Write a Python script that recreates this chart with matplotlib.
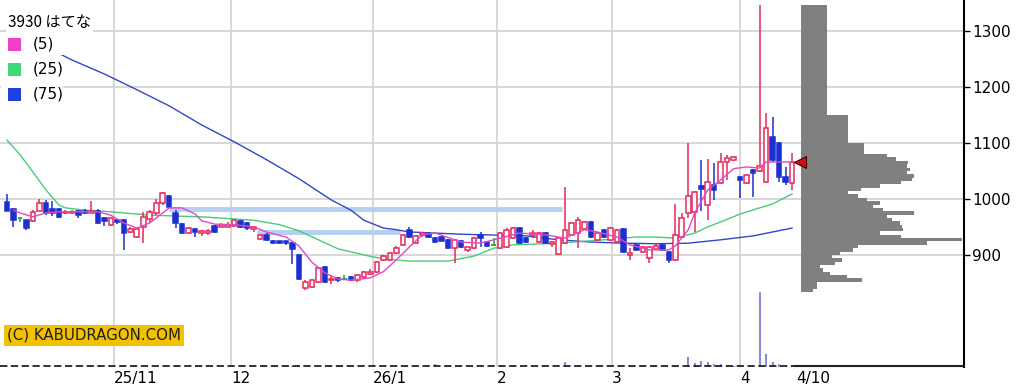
import matplotlib
matplotlib.use("Agg")
import matplotlib.pyplot as plt
from matplotlib.patches import Rectangle

# daily candles (price, yen)
opens = [995, 982, 966, 962, 960, 979, 993, 982, 982, 975,
         974, 978, 978, 974, 979, 966, 954, 962, 962, 941,
         932, 950, 964, 975, 993, 1005, 975, 955, 939, 946,
         939, 940, 952, 950, 950, 952, 961, 957, 946, 929,
         936, 925, 924, 924, 921, 900, 841, 843, 852, 879,
         855, 859, 857, 861, 855, 861, 866, 870, 891, 891,
         904, 918, 945, 921, 936, 937, 930, 932, 927, 912,
         925, 909, 912, 936, 923, 918, 912, 914, 930, 948,
         930, 936, 923, 939, 920, 902, 921, 936, 939, 946,
         959, 927, 945, 927, 923, 946, 900, 918, 905, 895,
         911, 918, 905, 891, 932, 975, 977, 1023, 989, 1025,
         1029, 1066, 1070, 1039, 1029, 1052, 1050, 1030, 1111, 1100,
         1039, 1029]
highs = [1009, 984, 966, 963, 980, 1000, 998, 996, 984, 980,
         980, 980, 982, 996, 982, 968, 968, 964, 964, 950,
         948, 977, 980, 1000, 1013, 1007, 980, 957, 950, 948,
         945, 947, 954, 957, 959, 963, 963, 959, 952, 938,
         939, 927, 925, 925, 923, 902, 855, 857, 879, 880,
         862, 860, 864, 862, 866, 871, 875, 890, 900, 905,
         916, 938, 950, 936, 941, 941, 932, 934, 929, 929,
         927, 914, 932, 941, 925, 930, 941, 948, 950, 950,
         932, 945, 941, 941, 925, 932, 1021, 959, 968, 961,
         961, 941, 946, 950, 946, 948, 912, 920, 916, 916,
         920, 920, 907, 991, 975, 1100, 1014, 1070, 1072, 1064,
         1082, 1079, 1077, 1041, 1045, 1054, 1346, 1154, 1146, 1102,
         1057, 1082]
lows = [979, 950, 958, 945, 958, 979, 971, 970, 966, 973,
        974, 966, 973, 974, 955, 952, 952, 955, 909, 939,
        930, 921, 957, 971, 990, 984, 948, 937, 937, 932,
        934, 936, 939, 950, 950, 950, 948, 945, 941, 927,
        924, 919, 919, 918, 884, 855, 837, 841, 850, 850,
        848, 852, 857, 853, 852, 859, 864, 868, 889, 889,
        902, 916, 930, 920, 932, 930, 921, 924, 911, 886,
        912, 905, 911, 914, 914, 918, 911, 912, 929, 920,
        921, 930, 921, 920, 914, 900, 920, 934, 912, 945,
        930, 925, 930, 925, 921, 904, 891, 907, 904, 886,
        909, 907, 886, 889, 930, 966, 941, 979, 962, 998,
        1027, 1034, 1068, 1002, 1027, 1003, 1048, 1029, 1066, 1030,
        1025, 1016]
closes = [979, 962, 966, 948, 977, 993, 975, 975, 968, 977,
          977, 972, 975, 978, 957, 960, 966, 958, 939, 946,
          946, 968, 977, 993, 1011, 986, 957, 939, 948, 941,
          942, 943, 941, 954, 954, 962, 950, 948, 950, 936,
          926, 921, 921, 921, 911, 857, 852, 855, 877, 852,
          857, 855, 857, 855, 864, 870, 870, 888, 898, 904,
          912, 936, 932, 934, 939, 932, 923, 925, 912, 927,
          914, 914, 930, 930, 916, 918, 939, 945, 948, 921,
          923, 939, 939, 921, 923, 930, 945, 957, 962, 959,
          932, 939, 932, 948, 945, 905, 904, 909, 914, 914,
          916, 909, 891, 936, 966, 1005, 1012, 1018, 1030, 1016,
          1066, 1073, 1075, 1034, 1043, 1046, 1059, 1127, 1070, 1039,
          1030, 1066]
# daily volume (relative units)
volume = [1.5, 0, 0, 0, 0, 0, 0, 0, 0, 0,
          0, 0, 0, 0, 1.5, 0, 0, 0, 0, 0,
          0, 0, 0, 0, 0, 0, 0, 0, 0, 0,
          0, 0, 0, 0, 0, 0, 0, 0, 0, 0,
          0, 0, 0, 0, 1.5, 2, 0, 0, 0, 0,
          0, 0, 0, 0, 0, 0, 0, 0, 0, 0,
          0, 0, 0, 0, 0, 0, 3, 0, 0, 0,
          0, 0, 0, 0, 0, 0, 0, 0, 0, 0,
          0, 0, 0, 0, 0, 0, 5, 0, 0, 0,
          0, 0, 0, 0, 0, 0, 0, 0, 0, 0,
          0, 0, 0, 1, 0, 10, 4, 6, 5, 3,
          3, 2, 1.5, 1, 0, 0, 75, 13, 5, 3,
          1.5, 1]

# moving averages: (day index, price)
ma5_idx = [1, 2, 4, 6, 8, 14, 16, 18, 20, 22, 24, 25, 27, 29, 30, 32, 35, 38, 40, 43,
           45, 47, 49, 51, 53, 56, 58, 60, 62, 64, 66, 70, 73, 76, 79, 83, 86, 89, 91, 94,
           96, 99, 102, 103, 105, 106, 108, 110, 112, 114, 116, 117, 119, 121]
ma5_val = [980, 975, 968, 975, 977, 977, 971, 957, 948, 957, 975, 984, 984, 973, 961, 955, 954, 950, 941, 932,
           916, 887, 868, 857, 855, 859, 870, 891, 914, 936, 939, 923, 921, 930, 939, 936, 930, 945, 941, 932,
           918, 909, 909, 916, 945, 975, 1016, 1034, 1054, 1057, 1055, 1066, 1066, 1066]
ma25_idx = [0, 2, 4, 6, 8, 9, 12, 16, 22, 30, 38, 42, 45, 48, 51, 55, 58, 62, 68, 72,
            75, 78, 85, 92, 97, 100, 103, 106, 108, 110, 113, 116, 118, 121]
ma25_val = [1105, 1079, 1048, 1016, 989, 984, 980, 977, 971, 968, 962, 954, 943, 927, 911, 900, 893, 889, 889, 898,
            912, 918, 921, 927, 932, 932, 930, 939, 950, 959, 973, 984, 991, 1009]
ma75_idx = [1, 5, 10, 15, 20, 25, 30, 35, 40, 45, 50, 53, 55, 58, 60, 62, 70, 80, 85, 90,
            95, 100, 105, 110, 115, 121]
ma75_val = [1298, 1277, 1248, 1223, 1195, 1166, 1132, 1102, 1070, 1036, 998, 980, 962, 948, 945, 941, 937, 934, 927, 923,
            921, 920, 921, 927, 934, 948]

# horizontal price levels (light blue)
level_price = [982, 941]
level_from = [25, 38.5]
level_to = [85.5, 60.5]

# volume-by-price profile
prof_top = 1080
prof_step = 6
prof_fine = [86, 95, 107, 106, 109, 106, 113, 111, 100, 79,
             60, 47, 57, 66, 79, 72, 82, 113, 86, 91,
             99, 101, 102, 79, 100, 161, 126, 57, 52, 39,
             31, 41, 34, 19, 22, 29, 46, 61, 16, 16, 12]
prof_coarse_lo = [1080, 1100, 1150]
prof_coarse_hi = [1100, 1150, 1346]
prof_coarse_w = [63, 47, 26]

last_price = 1066
month_pos = [16.5, 34.5, 56.4, 75.5, 93.2, 113.0]
month_lab = ['25/11', '12', '26/1', '2', '3', '4']
end_pos = 121.6
end_lab = '4/10'
y_ticks = [900, 1000, 1100, 1200, 1300]

RED = '#E8285A'
BLUE = '#1A30D0'
GREEN = '#20A040'
GRID = '#D4D4D4'

W, H = 1028, 392
fig = plt.figure(figsize=(W / 100, H / 100), dpi=100)
ax = fig.add_axes([0, 25 / H, 964 / W, 367 / H])
n = len(closes)
xmax = 147.5
ax.set_xlim(-1.08, xmax)
ax.set_ylim(700, 1355)

for p in y_ticks:
    ax.axhline(p, color=GRID, lw=1.3, zorder=0)
for p in month_pos:
    ax.axvline(p, color=GRID, lw=1.3, zorder=0)

for p, a, b in zip(level_price, level_from, level_to):
    ax.plot([a, b], [p, p], color='#B4CFF0', lw=3.5, solid_capstyle='butt', zorder=1)

ax.plot(ma75_idx, ma75_val, color='#3048C8', lw=1.0, zorder=2)
ax.plot(ma25_idx, ma25_val, color='#48CC78', lw=1.0, zorder=2)

bw = 0.7
for i in range(n):
    o, h, l, c = opens[i], highs[i], lows[i], closes[i]
    if c > o:
        col = RED
    elif c < o:
        col = BLUE
    else:
        col = GREEN
    ax.vlines(i, l, h, color=col, lw=1.1, zorder=3)
    lo = min(o, c)
    hgt = max(abs(c - o), 1.2)
    if col == RED:
        ax.add_patch(Rectangle((i - bw / 2, lo), bw, hgt, facecolor='white',
                               edgecolor=col, lw=1.1, zorder=4))
    elif col == BLUE:
        ax.add_patch(Rectangle((i - bw / 2, lo), bw, hgt, facecolor=col,
                               edgecolor=col, lw=1.1, zorder=4))
    else:
        ax.hlines(c, i - bw / 2, i + bw / 2, color=col, lw=1.3, zorder=4)

ax.plot(ma5_idx, ma5_val, color='#E048C8', lw=1.0, zorder=5)

# volume bars at the bottom
xt = ax.get_xaxis_transform()
for i, v in enumerate(volume):
    if v > 0:
        ax.vlines(i, 0, v / 367, transform=xt, color='#8C8CDC', lw=1.5, zorder=2)

# bottom line: dashed under the candles, solid after
ax.plot([-1.08, n - 0.5], [701.5, 701.5], color='#222222', lw=1.3,
        ls=(0, (4, 2)), zorder=6, clip_on=False)
ax.plot([n - 0.5, xmax], [701.5, 701.5], color='#222222', lw=1.5,
        zorder=6, clip_on=False)

for s in ['left', 'top', 'bottom']:
    ax.spines[s].set_visible(False)
ax.spines['right'].set_linewidth(1.5)

ax.yaxis.tick_right()
ax.set_yticks(y_ticks)
ax.set_yticklabels([str(t) for t in y_ticks])
ax.tick_params(axis='y', direction='out', length=4, width=1, labelsize=11, pad=2)
ax.set_xticks(month_pos + [end_pos])
ax.set_xticklabels(month_lab + [end_lab], ha='left')
ax.tick_params(axis='x', length=0, labelsize=11, pad=3)

# volume-by-price histogram on the right
axh = fig.add_axes([801 / W, 25 / H, 163 / W, 367 / H])
axh.set_xlim(0, 163)
axh.set_ylim(700, 1355)
axh.axis('off')
for k, w in enumerate(prof_fine):
    top = prof_top - k * prof_step
    axh.barh(top - prof_step, w, height=prof_step, align='edge', color='#808080', lw=0)
for lo, hi, w in zip(prof_coarse_lo, prof_coarse_hi, prof_coarse_w):
    axh.barh(lo, w, height=hi - lo, align='edge', color='#808080', lw=0)
axh.plot([-1.2], [last_price], marker='<', ms=9, color='#D01010', mec='#400000',
         mew=0.8, clip_on=False, zorder=10)

# title and legend
jp = ['Noto Sans CJK JP', 'DejaVu Sans']
fig.text(8 / W, 1 - 22 / H, '3930 はてな', fontsize=11, family=jp, va='center', ha='left',
         bbox=dict(facecolor='white', edgecolor='none', pad=1.5))
leg_cols = ['#F040C8', '#40D878', '#2040E0']
leg_labs = ['(5)', '(25)', '(75)']
for k, (cl, lb) in enumerate(zip(leg_cols, leg_labs)):
    yc = 44 + 25 * k
    fig.patches.append(Rectangle((1 / W, 1 - (yc + 11) / H), 62 / W, 22 / H,
                                 transform=fig.transFigure, facecolor='white',
                                 edgecolor='none', zorder=5))
    fig.patches.append(Rectangle((8 / W, 1 - (yc + 6.5) / H), 13 / W, 13 / H,
                                 transform=fig.transFigure, facecolor=cl,
                                 edgecolor='none', zorder=6))
    fig.text(33 / W, 1 - yc / H, lb, fontsize=11, va='center', ha='left', zorder=7)

fig.text(7 / W, 1 - 335.5 / H, '(C) KABUDRAGON.COM', fontsize=10.8, va='center', ha='left',
         color='#202020', bbox=dict(facecolor='#F2C200', edgecolor='none', pad=2.5))

fig.savefig('out.png', dpi=100)
